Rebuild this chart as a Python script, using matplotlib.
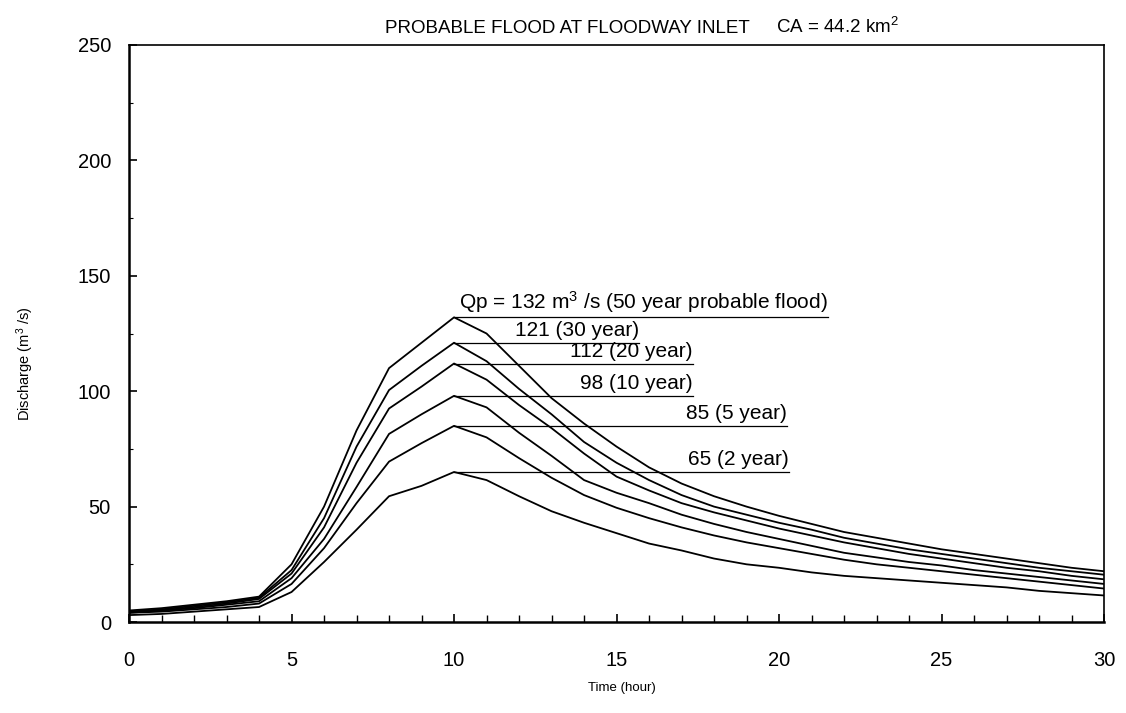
import matplotlib
matplotlib.use("Agg")
import matplotlib.pyplot as plt
from matplotlib.ticker import MultipleLocator

plt.rcParams['font.family'] = ['Liberation Sans', 'DejaVu Sans']
plt.rcParams['mathtext.fontset'] = 'custom'
plt.rcParams['mathtext.rm'] = 'Liberation Sans'
plt.rcParams['mathtext.it'] = 'Liberation Sans:italic'
plt.rcParams['mathtext.default'] = 'regular'

# Thời gian (giờ)
hours = list(range(31))

# Lưu lượng (m3/s) theo tần suất
q_50yr = [5, 6, 7.5, 9, 11, 25, 50, 83, 110, 121, 132, 125, 111, 97, 86, 76, 67,
          60, 54.5, 50, 46, 42.5, 39, 36.5, 34, 31.5, 29.5, 27.5, 25.5, 23.5, 22]
q_30yr = [4.5, 5.5, 7, 8.5, 10.5, 22.5, 45, 76, 100.5, 111, 121, 113, 101, 90, 78, 69, 61.5,
          55, 50, 46.5, 43, 40, 36.5, 34, 31.5, 29.5, 27.5, 25.5, 23.5, 22, 20.5]
q_20yr = [4.5, 5, 6.5, 8, 10, 21, 41, 69, 92.5, 102, 112, 105, 94, 84, 73, 63, 57,
          51.5, 47.5, 44, 40.5, 37.5, 34.5, 32, 29.5, 27.5, 25.5, 23.5, 22, 20, 18.5]
q_10yr = [4, 5, 6, 7.5, 9, 19, 36, 58.5, 81.5, 90, 98, 93, 82, 72, 61.5, 56, 51.5,
          46.5, 42.5, 39, 36, 33, 30, 28, 26, 24.5, 22.5, 21, 19.5, 18, 16.5]
q_5yr = [4, 4.5, 5.5, 6.5, 8, 16.5, 32, 51.5, 69.5, 77.5, 85, 80, 71, 62.5, 55, 49.5, 45,
         41, 37.5, 34.5, 32, 29.5, 27, 25, 23.5, 22, 20.5, 19, 17.5, 16, 14.5]
q_2yr = [3, 3.5, 4.5, 5.5, 6.5, 13, 26, 40, 54.5, 59, 65, 61.5, 54.5, 48, 43, 38.5, 34,
         31, 27.5, 25, 23.5, 21.5, 20, 19, 18, 17, 16, 15, 13.5, 12.5, 11.5]

series = [q_50yr, q_30yr, q_20yr, q_10yr, q_5yr, q_2yr]
peak_time = 10
peak_labels = ["Qp = 132 m$^3$ /s (50 year probable flood)", "121 (30 year)",
               "112 (20 year)", "98 (10 year)", "85 (5 year)", "65 (2 year)"]
# điểm cuối đường kẻ nhãn (giờ)
label_end = [21.5, 15.7, 17.35, 17.35, 20.25, 20.3]

fig = plt.figure(figsize=(11.26, 7.13), dpi=100)
ax = fig.add_axes([0.1146, 0.1276, 0.8659, 0.8093])

for q, lab, xe in zip(series, peak_labels, label_end):
    ax.plot(hours, q, color='black', lw=1.3)
    qp = q[hours.index(peak_time)]
    ax.plot([peak_time, xe], [qp, qp], color='black', lw=0.9)
    ax.annotate(lab, xy=(xe, qp), xytext=(0, 2), textcoords='offset points',
                ha='right', va='bottom', fontsize=15)

ax.set_xlim(0, 30)
ax.set_ylim(0, 250)
ax.xaxis.set_major_locator(MultipleLocator(5))
ax.xaxis.set_minor_locator(MultipleLocator(1))
ax.yaxis.set_major_locator(MultipleLocator(50))
ax.yaxis.set_minor_locator(MultipleLocator(25))
ax.tick_params(axis='x', which='both', direction='in', labelsize=14.5, pad=21)
ax.tick_params(axis='x', which='major', length=6, width=1.2)
ax.tick_params(axis='x', which='minor', length=5, width=1.0)
ax.tick_params(axis='y', which='major', direction='in', length=6, width=1.2,
               labelsize=14.5, pad=13)
ax.tick_params(axis='y', which='minor', direction='in', length=3, width=0.8)
for s in ax.spines.values():
    s.set_linewidth(1.2)
ax.spines['left'].set_linewidth(1.8)
ax.spines['bottom'].set_linewidth(1.8)

fig.text(385 / 1126, 1 - 33 / 713, "PROBABLE FLOOD AT FLOODWAY INLET",
         ha='left', va='baseline', fontsize=13.5)
fig.text(776 / 1126, 1 - 33 / 713, "CA = 44.2 km$^2$",
         ha='left', va='baseline', fontsize=13.5)
fig.text(25 / 1126, 1 - 364 / 713, "Discharge (m$^3$ /s)", rotation=90,
         ha='center', va='center', fontsize=10.5)
fig.text(622 / 1126, 1 - 688 / 713, "Time (hour)", ha='center', va='center',
         fontsize=9.5)

fig.savefig("out.png", dpi=100)
